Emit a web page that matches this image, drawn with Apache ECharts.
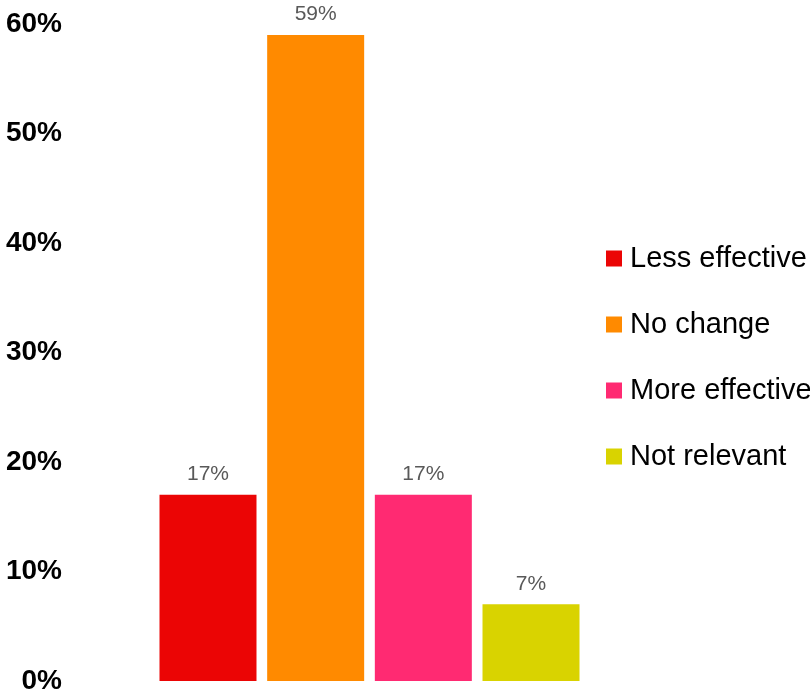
<!DOCTYPE html>
<html><head><meta charset="utf-8">
<script src="https://cdn.jsdelivr.net/npm/echarts@6/dist/echarts.min.js"></script>
<style>html,body{margin:0;padding:0;background:#fff}#c{width:810px;height:698px}</style>
</head><body><div id="c"></div>
<script>
const seriesNames = ['Less effective', 'No change', 'More effective', 'Not relevant'];
const seriesValues = [17, 59, 17, 7];
const seriesColors = ['#EB0505', '#FF8A00', '#FF2A72', '#D9D300'];
const yTicks = [0, 10, 20, 30, 40, 50, 60];

const chart = echarts.init(document.getElementById('c'), null, {renderer: 'canvas'});
chart.setOption({
  animation: false,
  textStyle: {fontFamily: 'Liberation Sans, Arial, sans-serif'},
  grid: {left: 70, right: 141, top: 24, bottom: 17, containLabel: false},
  legend: {
    orient: 'vertical', left: 601, top: 238,
    itemWidth: 16, itemHeight: 16, itemGap: 35,
    icon: 'rect',
    textStyle: {fontSize: 29, lineHeight: 31, color: '#000', padding: [0, 0, 0, 3], fontFamily: 'Liberation Sans, Arial, sans-serif'},
    data: seriesNames
  },
  xAxis: {type: 'category', data: [''], axisLine: {show: false}, axisTick: {show: false}, axisLabel: {show: false}},
  yAxis: {
    type: 'value', min: yTicks[0], max: yTicks[yTicks.length - 1], interval: 10,
    axisLine: {show: false}, axisTick: {show: false}, splitLine: {show: false},
    axisLabel: {formatter: '{value}%', fontSize: 28, fontWeight: 'bold', color: '#000', margin: 8,
      fontFamily: 'Liberation Sans, Arial, sans-serif'}
  },
  series: seriesNames.map((n, i) => ({
    name: n, type: 'bar', data: [seriesValues[i]],
    barWidth: 97, barGap: '11%',
    itemStyle: {color: seriesColors[i]},
    label: {show: true, position: 'top', distance: 10, formatter: '{c}%', fontSize: 21, color: '#595959',
      fontFamily: 'Liberation Sans, Arial, sans-serif'}
  }))
});
</script></body></html>
